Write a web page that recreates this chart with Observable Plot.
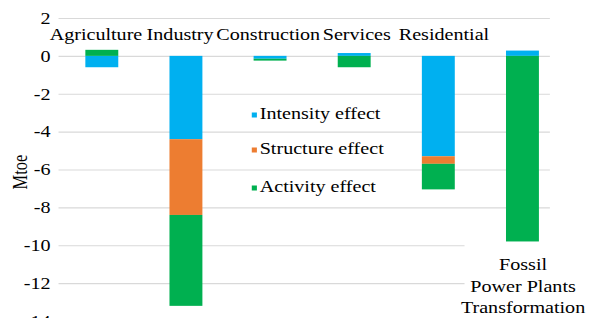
<!DOCTYPE html>
<html>
<head>
<meta charset="utf-8">
<script src="https://cdn.jsdelivr.net/npm/d3@7"></script>
<script src="https://cdn.jsdelivr.net/npm/@observablehq/plot@0.6"></script>
<style>
  body { margin: 0; background: white; }
  #chart { width: 595px; height: 318px; overflow: hidden; }
</style>
</head>
<body>
<div id="chart"></div>
<script>
// ---- data ----
const categories = ["Agriculture", "Industry", "Construction", "Services", "Residential", "Fossil Power Plants Transformation"];
const categoryLabels = ["Agriculture", "Industry", "Construction", "Services", "Residential", "Fossil\nPower Plants\nTransformation"];
const effects = ["Intensity effect", "Structure effect", "Activity effect"];
const intensity = [-0.6, -4.4, -0.15, 0.15, -5.3, 0.28];
const structure = [0, -4.0, 0, 0, -0.4, 0];
const activity  = [0.32, -4.8, -0.1, -0.6, -1.35, -9.8];
const yTicks = [2, 0, -2, -4, -6, -8, -10, -12, -14];
const colors = ["#00B0F0", "#ED7D31", "#00B050"];

const series = [intensity, structure, activity];
const rows = [];
effects.forEach((e, i) => categories.forEach((c, j) => rows.push({category: c, effect: e, value: series[i][j]})));

const FONT = "'Liberation Serif', 'Times New Roman', Tinos, serif";
const FS = 16.5;
const W = 488;   // internal width; the svg is stretched horizontally to 595
const H = 318;

const topLabels = categories.slice(0, 5).map((c, i) => ({category: c, label: categoryLabels[i]}));
const labelShift = [-5.3, -5.3, -2, 1.6, 4.1];
const fossil = [{category: categories[5], label: categoryLabels[5],
  bottom: d3.sum([intensity[5], structure[5], activity[5]].filter(v => v < 0))}];

const chart = Plot.plot({
  width: W,
  height: H,
  marginLeft: 48,
  marginRight: 25,
  marginTop: 18,
  marginBottom: -3,
  style: {fontFamily: FONT, fontSize: FS + "px", background: "white", color: "black"},
  x: {domain: categories, paddingInner: 0.61, paddingOuter: 0.305, axis: null},
  y: {domain: [-14, 2], ticks: yTicks, tickFormat: d => String(d), tickSize: 0, tickPadding: 7, label: null},
  color: {domain: effects, range: colors},
  marks: [
    Plot.ruleY(yTicks.filter(d => d > -10), {stroke: "#d9d9d9", strokeWidth: 1.2, insetRight: 12}),
    Plot.ruleY(yTicks.filter(d => d <= -10), {stroke: "#d9d9d9", strokeWidth: 1.2, insetRight: 82}),
    Plot.barY(rows, Plot.stackY({x: "category", y: "value", fill: "effect"})),
    ...topLabels.map((d, i) => Plot.text([d], {x: "category", y: () => 0, text: "label", dy: -22, dx: labelShift[i],
      fontSize: FS, fontFamily: FONT, fill: "black", lineAnchor: "middle"})),
    Plot.text(fossil, {x: "category", y: "bottom", text: "label", dy: 13, lineAnchor: "top",
      lineHeight: 1.3, fontSize: FS, fontFamily: FONT, fill: "black"})
  ]
});

// stretch horizontally like the reference
chart.setAttribute("width", 595);
chart.setAttribute("height", H);
chart.setAttribute("viewBox", `0 0 ${W} ${H}`);
chart.setAttribute("preserveAspectRatio", "none");
chart.style.width = "595px";
chart.style.height = H + "px";
chart.style.maxWidth = "none";

const svg = d3.select(chart);
// y-axis title
svg.append("text")
  .attr("transform", "translate(17,172) rotate(-90)")
  .attr("text-anchor", "middle")
  .attr("dy", "0.32em")
  .attr("font-family", FONT)
  .attr("font-size", FS)
  .attr("fill", "black")
  .text("Mtoe");

// legend inside the plot
const legendY = [114, 149, 187];
const lg = svg.append("g").attr("text-anchor", "start");
effects.forEach((e, i) => {
  lg.append("rect").attr("x", 206.5).attr("y", legendY[i] - 1.5).attr("width", 4.2).attr("height", 5).attr("fill", colors[i]);
  lg.append("text").attr("x", 213).attr("y", legendY[i]).attr("dy", "0.32em").attr("text-anchor", "start")
    .attr("font-family", FONT).attr("font-size", FS).attr("fill", "black").text(e);
});

document.getElementById("chart").appendChild(chart);
</script>
</body>
</html>
